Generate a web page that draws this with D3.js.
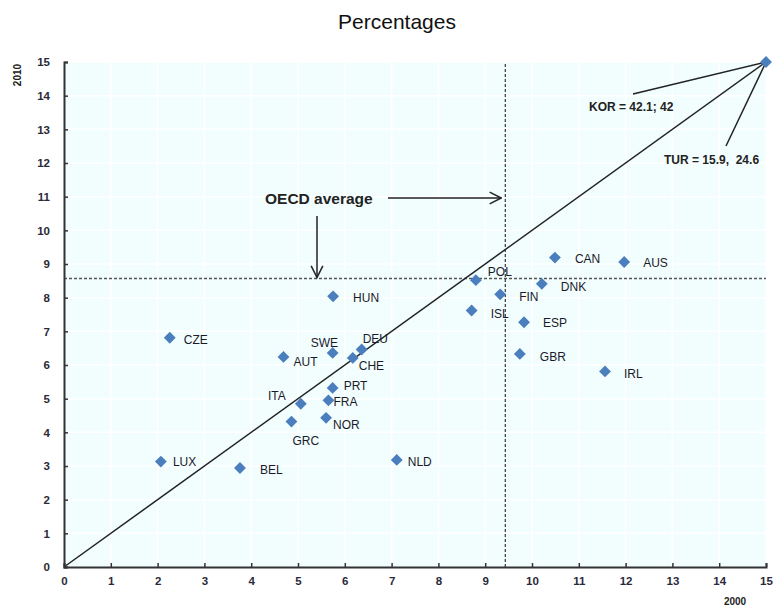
<!DOCTYPE html>
<html><head><meta charset="utf-8">
<script src="https://cdn.jsdelivr.net/npm/d3@7"></script>
<style>
body{margin:0;background:#fff;}
text{font-family:"Liberation Sans",Arial,sans-serif;}
</style></head>
<body><svg id="chart" width="773" height="608"></svg>
<script>
const countries = ["CZE","LUX","BEL","NLD","GRC","NOR","FRA","PRT","ITA","AUT","SWE","DEU","CHE","HUN","CAN","AUS","POL","DNK","FIN","ISL","ESP","GBR","IRL","KOR/TUR"];
const values2000 = [2.26,2.07,3.76,7.11,4.86,5.60,5.65,5.74,5.06,4.69,5.74,6.36,6.17,5.75,10.49,11.97,8.80,10.21,9.32,8.71,9.83,9.74,11.56,15];
const values2010 = [6.81,3.13,2.94,3.18,4.32,4.43,4.95,5.32,4.85,6.24,6.36,6.46,6.21,8.04,9.19,9.06,8.52,8.41,8.10,7.62,7.27,6.33,5.81,15];
const xTicks = d3.range(0,16);
const yTicks = d3.range(0,16);
const oecdAvg2000 = 9.43;
const oecdAvg2010 = 8.57;
const korLabel = "KOR = 42.1; 42";
const turLabel = "TUR = 15.9,  24.6";

// label placement (pixels relative to marker)
const labelPos = {
  CZE:[14,2],LUX:[12,0],BEL:[20,2],NLD:[11,2],GRC:[1,19],NOR:[7,7],FRA:[5,1],PRT:[11,-2],
  ITA:[-15,-8,"end"],AUT:[10,5],SWE:[-22,-10],DEU:[1,-11],CHE:[6,8],HUN:[20,1],CAN:[20,1],
  AUS:[19,1],POL:[12,-8],DNK:[19,3],FIN:[19,2],ISL:[19,3],ESP:[19,1],GBR:[20,3],IRL:[19,2]
};

const svg = d3.select("#chart");
const x = d3.scaleLinear().domain([0,15]).range([64,766]);
const y = d3.scaleLinear().domain([0,15]).range([567,62]);

svg.append("text").attr("x",397).attr("y",29).attr("text-anchor","middle")
  .attr("font-size",21).attr("fill","#111").text("Percentages");

// plot background
svg.append("rect").attr("x",x(0)).attr("y",y(15)).attr("width",x(15)-x(0)).attr("height",y(0)-y(15))
  .attr("fill","#f2fefe");
// grid
svg.append("g").selectAll("line").data(xTicks.slice(1)).join("line")
  .attr("x1",d=>x(d)).attr("x2",d=>x(d)).attr("y1",y(0)).attr("y2",y(15))
  .attr("stroke","#fff").attr("stroke-width",1.5);
svg.append("g").selectAll("line").data(yTicks.slice(1)).join("line")
  .attr("y1",d=>y(d)).attr("y2",d=>y(d)).attr("x1",x(0)).attr("x2",x(15))
  .attr("stroke","#fff").attr("stroke-width",1.5);

// OECD average dashed lines
svg.append("line").attr("x1",x(oecdAvg2000)).attr("x2",x(oecdAvg2000)).attr("y1",y(0)).attr("y2",y(15))
  .attr("stroke","#444").attr("stroke-width",1.3).attr("stroke-dasharray","3,2");
svg.append("line").attr("x1",x(0)).attr("x2",x(15)).attr("y1",y(oecdAvg2010)).attr("y2",y(oecdAvg2010))
  .attr("stroke","#555").attr("stroke-width",1.3).attr("stroke-dasharray","3,2");

// diagonal
svg.append("line").attr("x1",x(0)).attr("y1",y(0)).attr("x2",x(15)).attr("y2",y(15))
  .attr("stroke","#222").attr("stroke-width",1.5);

// axes
const xAxis = svg.append("g").attr("transform",`translate(0,${y(0)})`)
  .call(d3.axisBottom(x).tickValues(xTicks).tickSize(-4).tickPadding(10).tickFormat(d3.format("d")));
const yAxis = svg.append("g").attr("transform",`translate(${x(0)},0)`)
  .call(d3.axisLeft(y).tickValues(yTicks).tickSize(-4).tickPadding(14).tickFormat(d3.format("d")));
[xAxis,yAxis].forEach(g=>{
  g.select(".domain").attr("stroke","#333").attr("stroke-width",2);
  g.selectAll(".tick line").attr("stroke","#333").attr("stroke-width",1.5);
  g.selectAll(".tick text").attr("font-size",11.5).attr("font-weight","bold").attr("fill","#2a2a3a")
   .attr("font-family","'Liberation Sans',Arial,sans-serif");
});
yAxis.selectAll(".tick text").attr("text-anchor","end");

svg.append("text").attr("transform","translate(21,75) rotate(-90)").attr("text-anchor","middle")
  .attr("font-size",10).attr("font-weight","bold").attr("fill","#222").text("2010");
svg.append("text").attr("x",735).attr("y",605).attr("text-anchor","middle")
  .attr("font-size",10).attr("font-weight","bold").attr("fill","#222").text("2000");

// arrows
const defs = svg.append("defs");
defs.append("marker").attr("id","arr").attr("viewBox","0 0 12 12").attr("refX",11).attr("refY",6)
  .attr("markerWidth",14).attr("markerHeight",14).attr("markerUnits","userSpaceOnUse").attr("orient","auto")
  .append("path").attr("d","M1,1 L11,6 L1,11").attr("fill","none").attr("stroke","#222").attr("stroke-width",1.3);
svg.append("text").attr("x",265).attr("y",204).attr("font-size",15.5).attr("font-weight","bold")
  .attr("fill","#222").text("OECD average");
svg.append("line").attr("x1",388).attr("y1",198).attr("x2",x(oecdAvg2000)-4).attr("y2",198)
  .attr("stroke","#222").attr("stroke-width",1.5).attr("marker-end","url(#arr)");
svg.append("line").attr("x1",317).attr("y1",216).attr("x2",317).attr("y2",y(oecdAvg2010)-1)
  .attr("stroke","#222").attr("stroke-width",1.5).attr("marker-end","url(#arr)");

// KOR/TUR leader lines
const lastI = countries.length-1;
svg.append("line").attr("x1",x(values2000[lastI])).attr("y1",y(values2010[lastI])).attr("x2",633).attr("y2",94)
  .attr("stroke","#222").attr("stroke-width",1.5);
svg.append("line").attr("x1",x(values2000[lastI])).attr("y1",y(values2010[lastI])).attr("x2",726).attr("y2",146)
  .attr("stroke","#222").attr("stroke-width",1.5);
svg.append("text").attr("x",589).attr("y",111).attr("font-size",12).attr("font-weight","bold")
  .attr("fill","#222").text(korLabel);
svg.append("text").attr("x",664).attr("y",164).attr("font-size",12).attr("font-weight","bold")
  .attr("fill","#222").style("white-space","pre").text(turLabel);

// points
const data = countries.map((c,i)=>({c,x:values2000[i],y:values2010[i]}));
svg.append("g").selectAll("path").data(data).join("path")
  .attr("d",d3.symbol().type(d3.symbolSquare).size(70))
  .attr("transform",d=>`translate(${x(d.x)},${y(d.y)}) rotate(45)`)
  .attr("fill","#4a7ebd");

svg.append("g").selectAll("text").data(data.filter(d=>labelPos[d.c])).join("text")
  .attr("x",d=>x(d.x)+labelPos[d.c][0]).attr("y",d=>y(d.y)+labelPos[d.c][1])
  .attr("dy","0.35em").attr("text-anchor",d=>labelPos[d.c][2]||"start")
  .attr("font-size",12).attr("fill","#1a1a2a").text(d=>d.c);
</script></body></html>
